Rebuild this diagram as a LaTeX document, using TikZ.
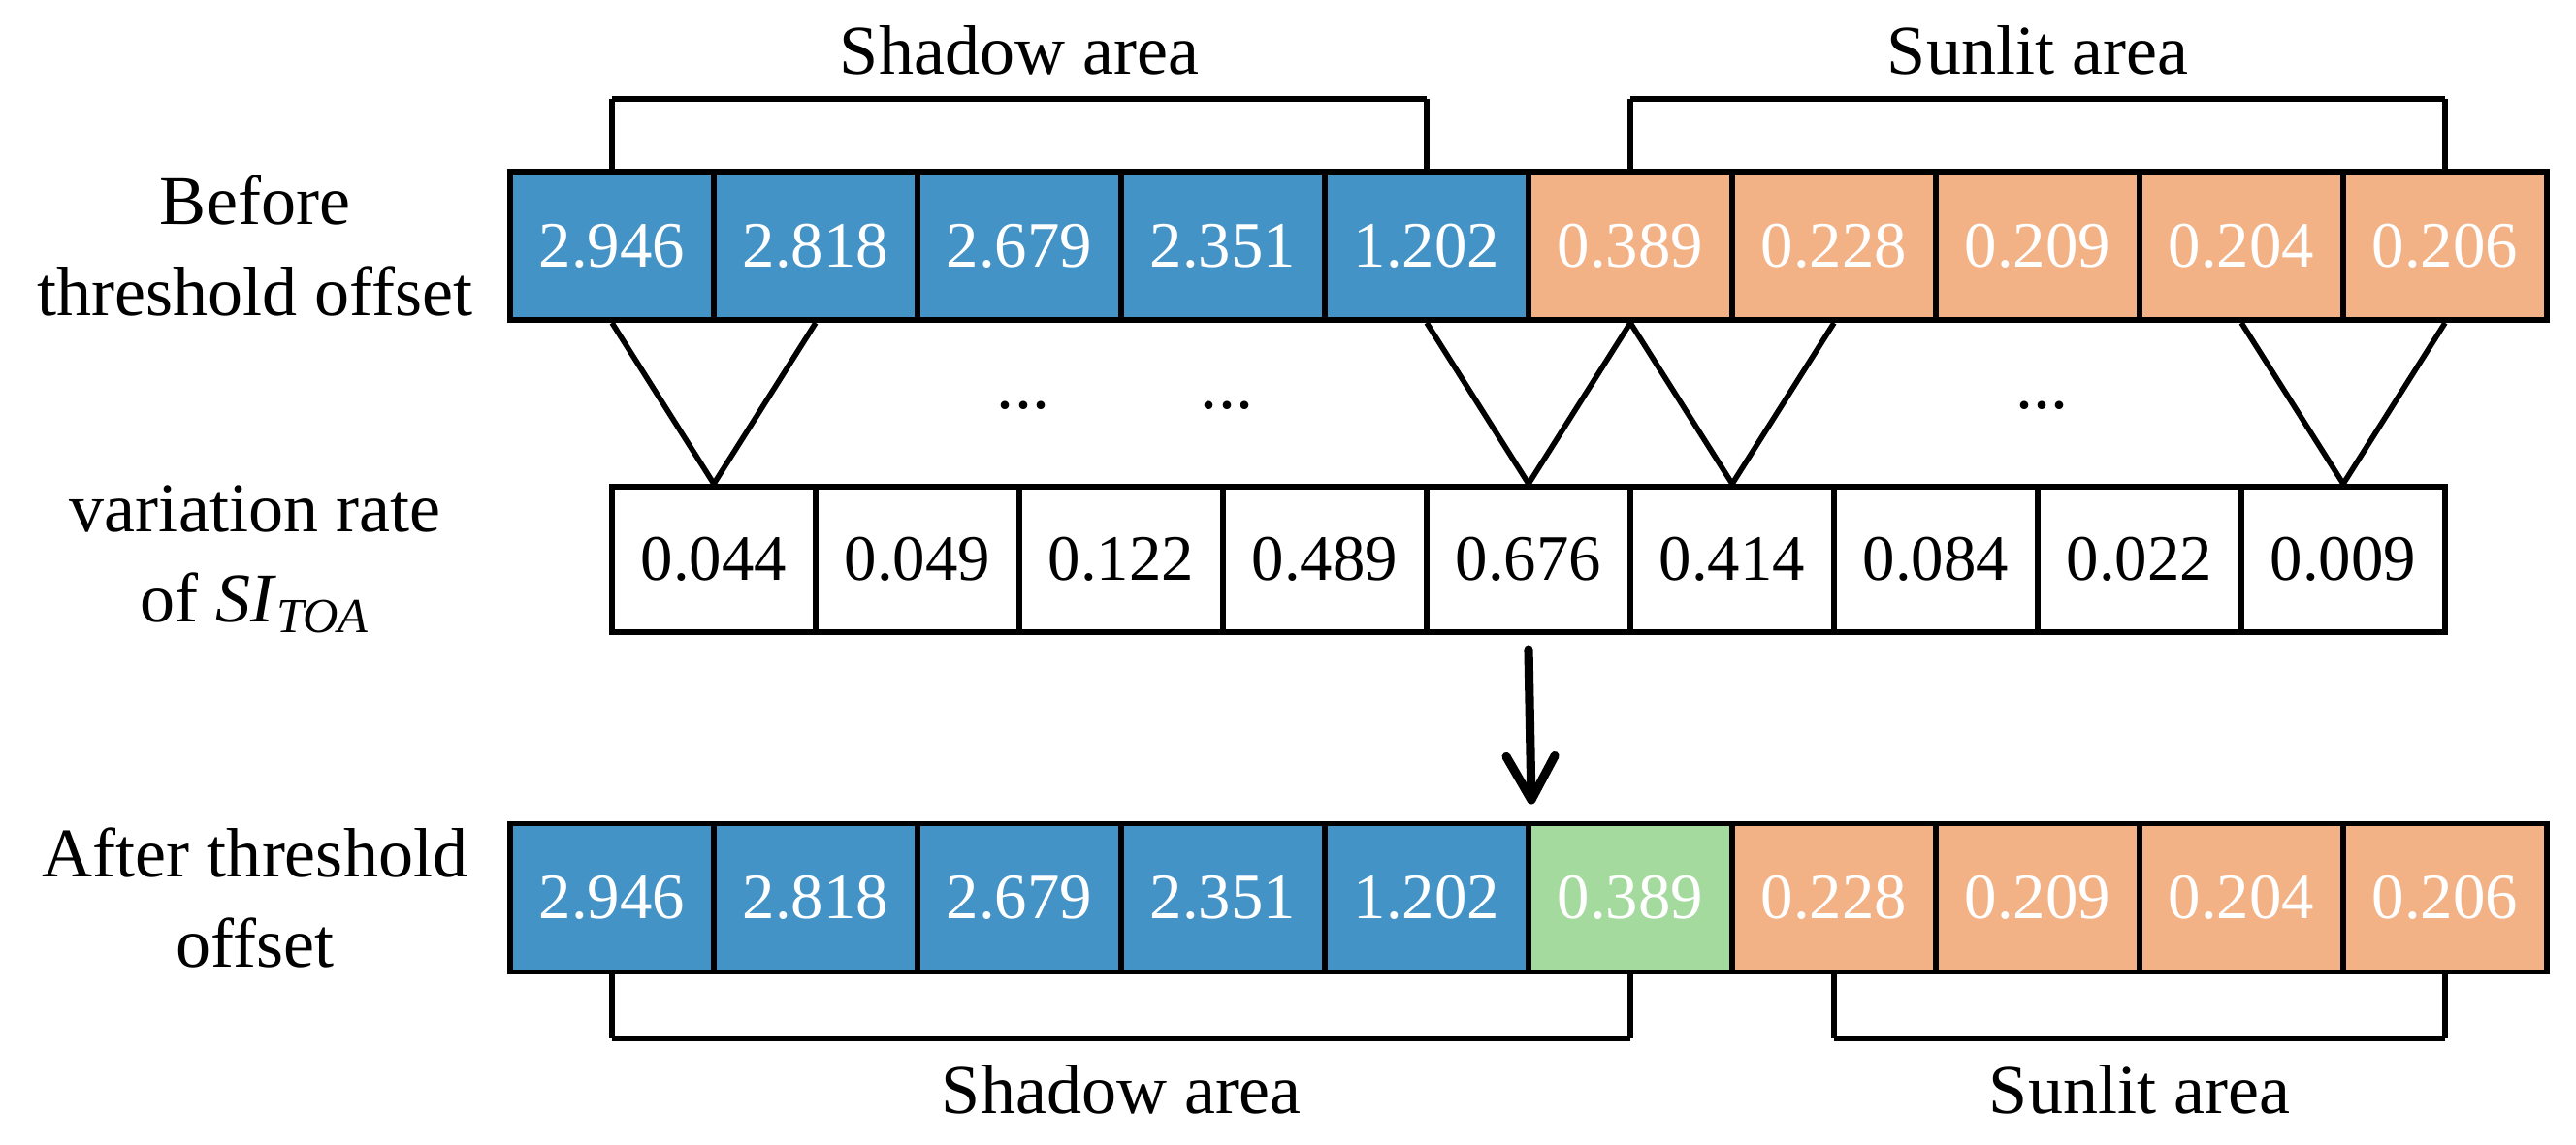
\documentclass[tikz,border=0pt]{standalone}
\usepackage{fontspec}
\setmainfont{Liberation Serif}
\usetikzlibrary{positioning}
\usetikzlibrary{arrows.meta}

\definecolor{shadowblue}{RGB}{68,147,198}
\definecolor{sunorange}{RGB}{242,178,134}
\definecolor{offgreen}{RGB}{164,218,157}

\tikzset{
cell/.style={draw, line width=1.7pt, minimum width=2.1cm, minimum height=1.53cm, inner sep=0pt, font=\fontsize{19}{23}\selectfont},
shd/.style={cell, fill=shadowblue, text=white},
sun/.style={cell, fill=sunorange, text=white},
mid/.style={cell, fill=offgreen, text=white},
rate/.style={cell, minimum height=1.5cm},
rowlabel/.style={align=center, font=\fontsize{20.5}{26.5}\selectfont},
arealabel/.style={font=\fontsize{20.5}{24}\selectfont},
brk/.style={line width=1.7pt, line join=round},
vee/.style={line width=1.6pt},
}

\begin{document}
\begin{tikzpicture}
\useasboundingbox (0,0) rectangle (26.56,11.8);
% before threshold offset
\foreach \i/\v in {0/2.946,1/2.818,2/2.679,3/2.351,4/1.202}{
\node[shd] (b\i) at ({6.31+2.1*\i},9.265) {\v};
}
\foreach \i/\v in {5/0.389,6/0.228,7/0.209,8/0.204,9/0.206}{
\node[sun] (b\i) at ({6.31+2.1*\i},9.265) {\v};
}
\node[rowlabel] (lb) at (2.63,9.265) {Before\\threshold offset};

% variation rate
\foreach \i/\v in {0/0.044,1/0.049,2/0.122,3/0.489,4/0.676,5/0.414,6/0.084,7/0.022,8/0.009}{
\node[rate] (v\i) at ({7.36+2.1*\i},6.03) {\v};
}
\node[rowlabel] (lv) at (lb |- v0) {variation rate\\of \textit{SI}\textsubscript{\textit{TOA}}};

\foreach \i in {0,4,5,8}{
\pgfmathtruncatemacro{\j}{\i+1}
\draw[vee] (b\i.south) -- (v\i.north) -- (b\j.south);
}
\node[rowlabel] (d1) at (10.55,7.62) {...};
\node[rowlabel] (d2) at (12.65,7.62) {...};
\node[rowlabel] (d3) at (21.05,7.62) {...};

% after threshold offset
\foreach \i/\v in {0/2.946,1/2.818,2/2.679,3/2.351,4/1.202}{
\node[shd] (a\i) at ({6.31+2.1*\i},2.54) {\v};
}
\node[mid] (a5) at ({6.31+2.1*5},2.54) {0.389};
\foreach \i/\v in {6/0.228,7/0.209,8/0.204,9/0.206}{
\node[sun] (a\i) at ({6.31+2.1*\i},2.54) {\v};
}
\node[rowlabel] (la) at (lb |- a0) {After threshold\\offset};

\draw[-{Straight Barb[round,length=0.45cm,width=0.5cm]}, line width=2.6pt, line cap=round] ([yshift=-0.15cm]v4.south) -- ([yshift=0.17cm]a4.north east);

% brackets
\draw[brk] (b0.north) -- ++(0,0.72) coordinate (s0);
\draw[brk] (b4.north) -- ++(0,0.72) coordinate (s4);
\draw[brk] (s0) -- node[arealabel, above=0.1cm] (tshadow) {Shadow area} (s4);
\draw[brk] (b5.north) -- ++(0,0.72) coordinate (s5);
\draw[brk] (b9.north) -- ++(0,0.72) coordinate (s9);
\draw[brk] (s5) -- node[arealabel, above=0.1cm] (tsunlit) {Sunlit area} (s9);

\draw[brk] (a0.south) -- ++(0,-0.66) coordinate (h0);
\draw[brk] (a5.south) -- ++(0,-0.66) coordinate (h5);
\draw[brk] (h0) -- node[arealabel, below=0.12cm] (bshadow) {Shadow area} (h5);
\draw[brk] (a6.south) -- ++(0,-0.66) coordinate (h6);
\draw[brk] (a9.south) -- ++(0,-0.66) coordinate (h9);
\draw[brk] (h6) -- node[arealabel, below=0.12cm] (bsunlit) {Sunlit area} (h9);
\end{tikzpicture}
\end{document}
